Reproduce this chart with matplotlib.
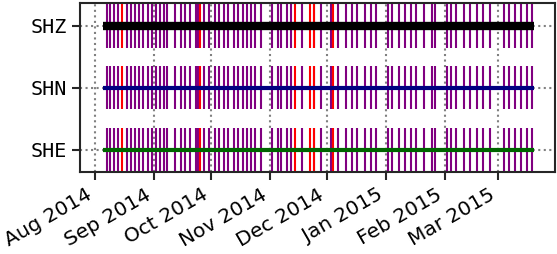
import numpy as np
import matplotlib
matplotlib.use("Agg")
import matplotlib.pyplot as plt
import matplotlib.dates as mdates

# channels, bottom to top
channels = ["SHE", "SHN", "SHZ"]
trace_colors = ["darkgreen", "navy", "black"]
trace_widths = [3.0, 3.0, 6.0]

data_start = np.datetime64("2014-08-05")
data_end = np.datetime64("2015-03-20")

# gap markers (same for all channels)
gaps = np.array([
    "2014-08-07", "2014-08-09", "2014-08-11", "2014-08-13", "2014-08-18",
    "2014-08-20", "2014-08-22", "2014-08-24", "2014-08-26", "2014-08-29",
    "2014-08-31", "2014-09-02", "2014-09-04", "2014-09-06", "2014-09-08",
    "2014-09-12", "2014-09-15", "2014-09-17", "2014-09-20", "2014-09-23",
    "2014-09-24", "2014-09-27", "2014-09-30", "2014-10-03", "2014-10-05",
    "2014-10-08", "2014-10-10", "2014-10-13", "2014-10-15", "2014-10-18",
    "2014-10-20", "2014-10-22", "2014-10-24", "2014-10-27", "2014-11-02",
    "2014-11-05", "2014-11-07", "2014-11-10", "2014-11-12", "2014-11-18",
    "2014-11-24", "2014-11-28", "2014-12-03", "2014-12-07", "2014-12-11",
    "2014-12-14", "2014-12-17", "2014-12-21", "2014-12-24", "2014-12-27",
    "2015-01-02", "2015-01-04", "2015-01-08", "2015-01-11", "2015-01-14",
    "2015-01-17", "2015-01-21", "2015-01-25", "2015-01-27", "2015-02-02",
    "2015-02-04", "2015-02-07", "2015-02-11", "2015-02-14", "2015-02-18",
    "2015-02-21", "2015-02-25", "2015-03-04", "2015-03-07", "2015-03-10",
    "2015-03-13", "2015-03-16", "2015-03-19",
], dtype="datetime64[D]")

# overlap markers
overlaps = np.array([
    "2014-08-15", "2014-09-25", "2014-11-14", "2014-11-22", "2014-11-24",
    "2014-12-04",
], dtype="datetime64[D]")

fig = plt.figure(figsize=(5.57, 2.54), dpi=100)
ax = fig.add_axes([0.1436, 0.323, 0.853, 0.665])

for i, (ch, col, lw) in enumerate(zip(channels, trace_colors, trace_widths)):
    ax.vlines(gaps, i - 0.35, i + 0.35, color="purple", lw=1.5, zorder=2)
    ax.vlines(overlaps, i - 0.35, i + 0.35, color="red", lw=1.5, zorder=2)
    ax.hlines(i, data_start, data_end, color=col, lw=lw, zorder=3)

ax.set_ylim(-0.36, 2.37)
ax.set_yticks(range(len(channels)))
ax.set_yticklabels(channels, family="DejaVu Sans Mono", fontsize=14.5)
ax.set_xlim(np.datetime64("2014-07-24"), np.datetime64("2015-03-31"))

ax.xaxis.set_major_locator(mdates.MonthLocator())
ax.xaxis.set_major_formatter(mdates.DateFormatter("%b %Y"))
for lab in ax.get_xticklabels():
    lab.set_rotation(30)
    lab.set_ha("right")
    lab.set_fontsize(14.5)

ax.grid(True, color="grey", linestyle=":", lw=1.5)
ax.set_axisbelow(True)
ax.tick_params(length=6, width=1.5, color="#262626")
for sp in ax.spines.values():
    sp.set_linewidth(1.5)
    sp.set_color("#262626")

fig.savefig("out.png", dpi=100)
